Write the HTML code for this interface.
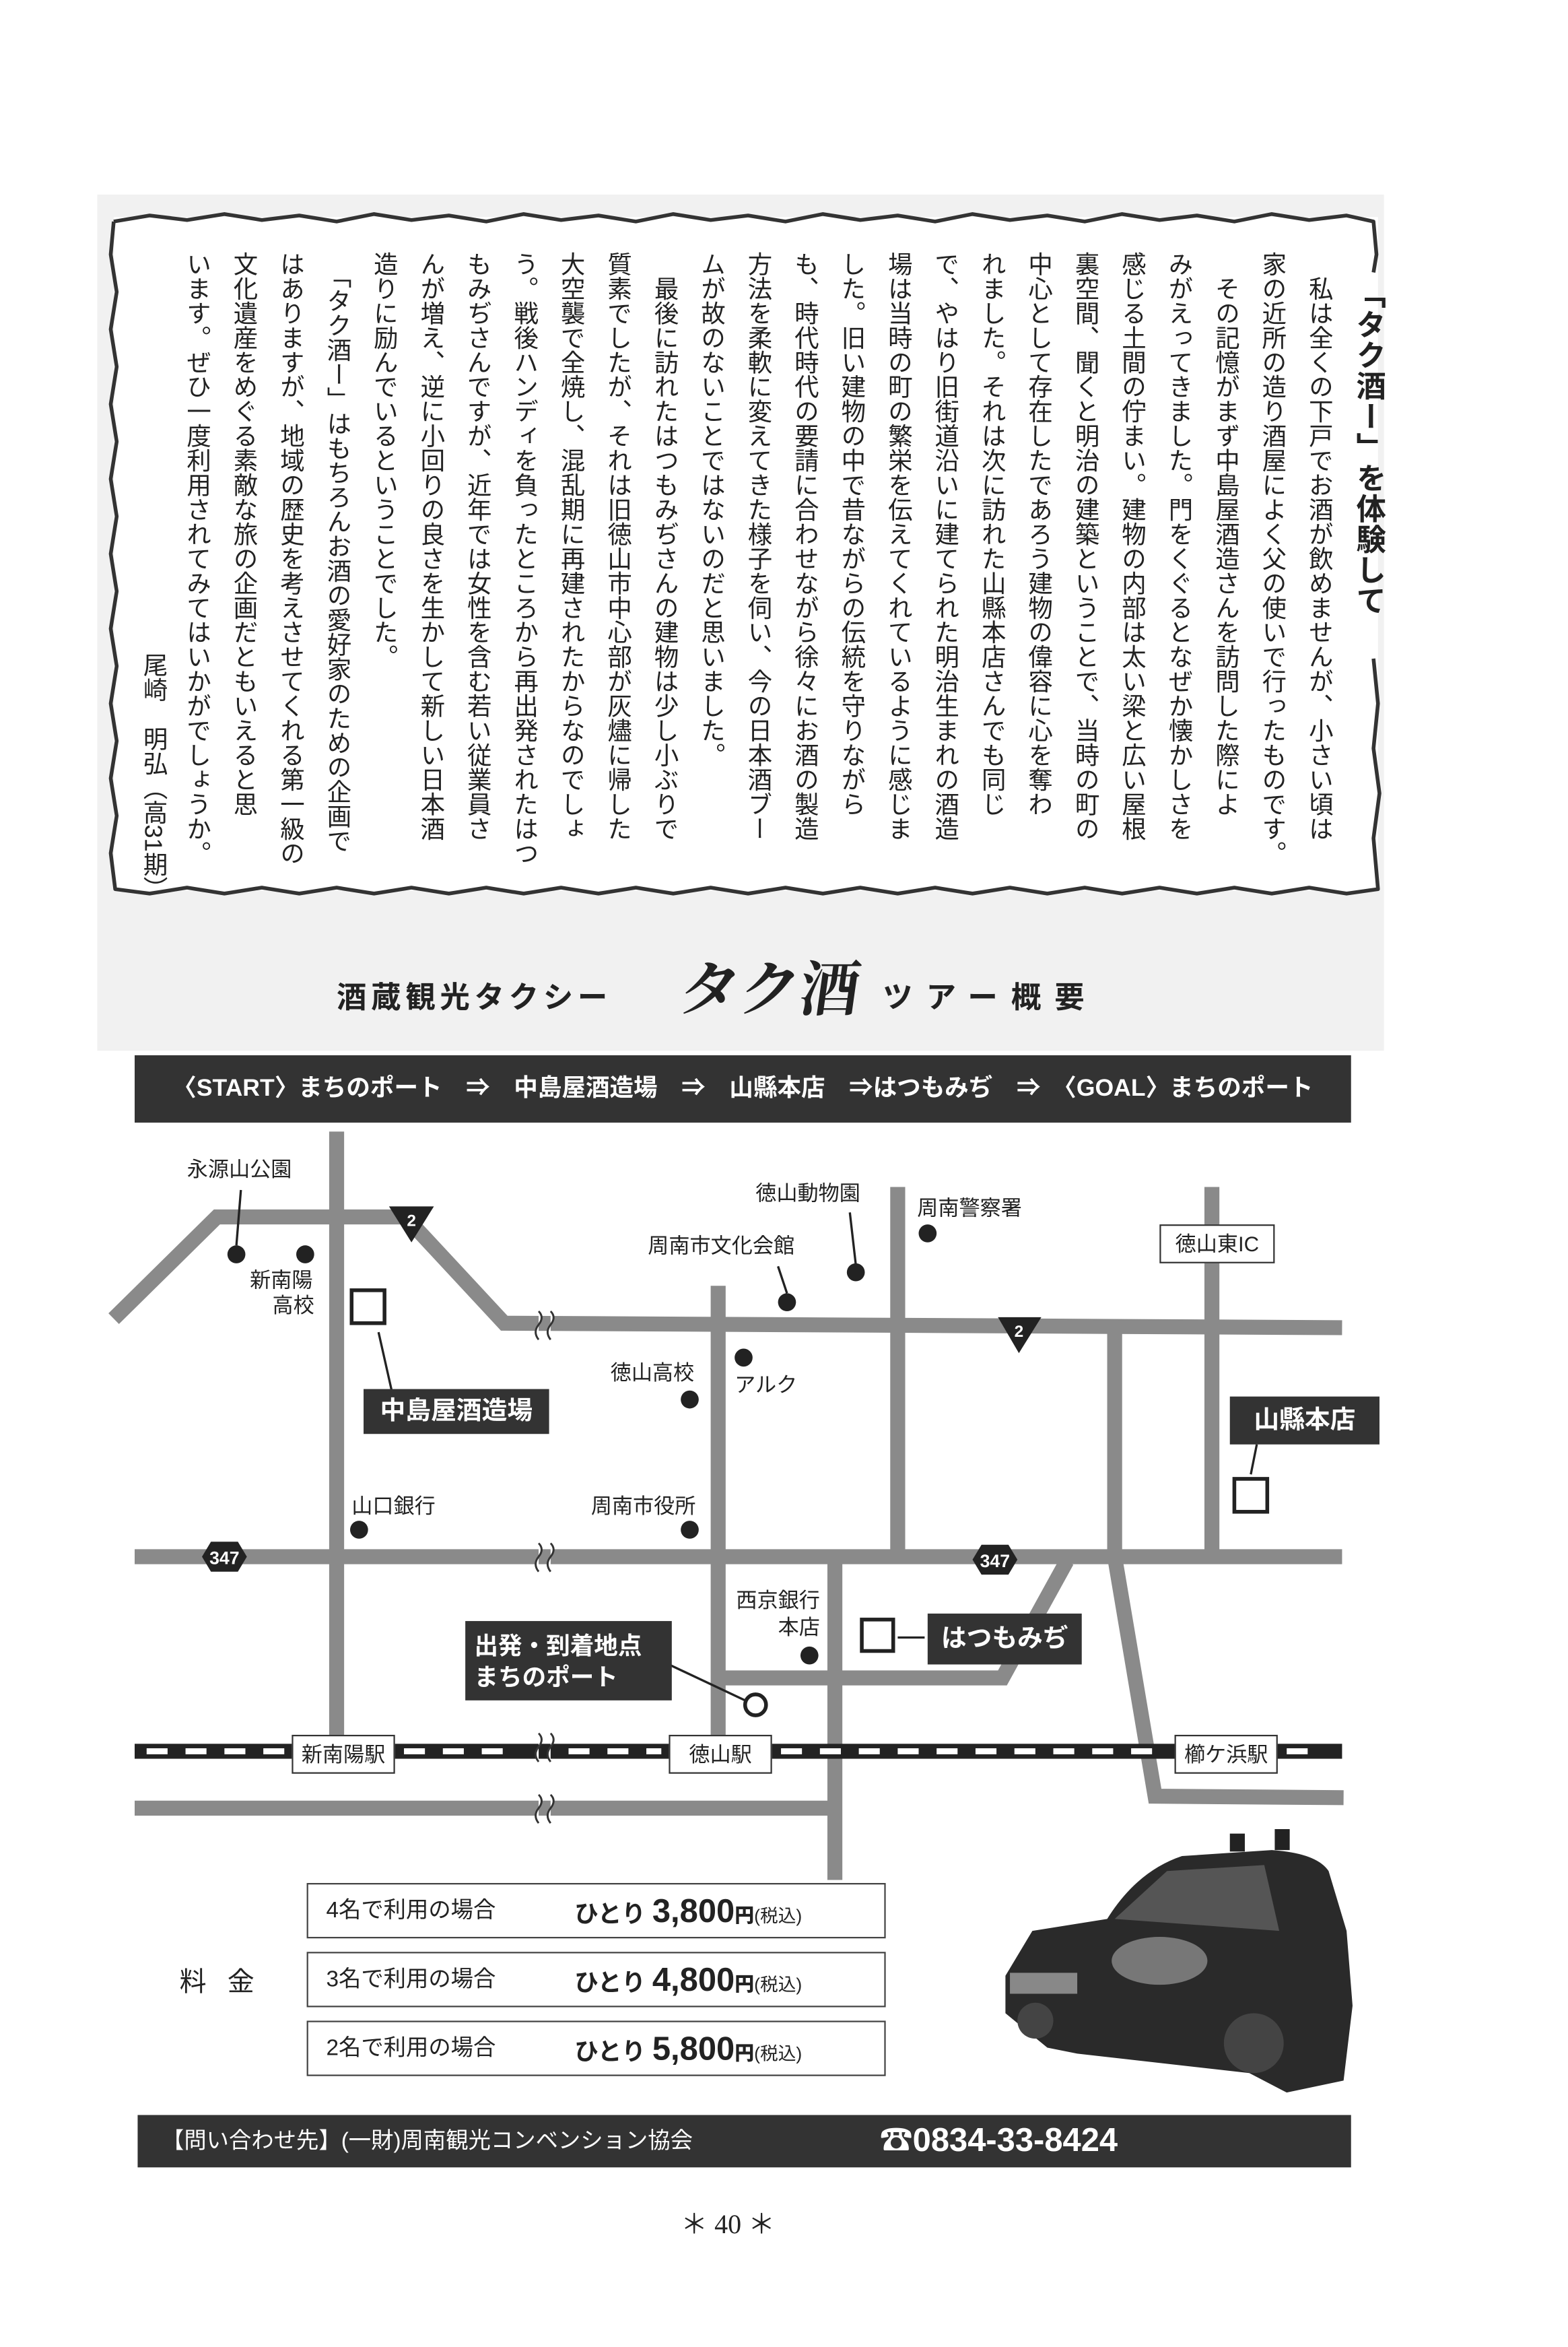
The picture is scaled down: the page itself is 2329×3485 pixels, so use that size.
<!DOCTYPE html>
<html><head><meta charset="utf-8">
<style>
html,body{margin:0;padding:0;background:#fff;}
body{width:2329px;height:3485px;overflow:hidden;position:relative;}
#c{position:absolute;left:0;top:0;width:1048px;height:1568px;transform:scale(2.22233,2.22258);transform-origin:0 0;font-family:"Liberation Sans","Noto Sans CJK JP",sans-serif;color:#222;}
.a{position:absolute;white-space:nowrap;}
.v{writing-mode:vertical-rl;}
.lbl{position:absolute;font-size:14px;white-space:nowrap;color:#222;line-height:1;}
.dk{position:absolute;background:#333;color:#fff;font-weight:bold;white-space:nowrap;line-height:1;}
.stn{position:absolute;background:#fff;border:1.5px solid #333;font-size:14px;text-align:center;line-height:24px;height:24px;}
.row{position:absolute;left:205px;width:385px;height:35px;border:1.5px solid #444;background:#fff;}
.row span{position:absolute;top:0;line-height:35px;white-space:nowrap;}
</style></head><body><div id="c">

<div class="a" style="left:65px;top:130px;width:860px;height:572px;background:#f1f1f1;"></div>

<svg class="a" style="left:0;top:0" width="1048" height="1568" viewBox="0 0 1048 1568">
 <rect x="76" y="145" width="845" height="450" fill="#fff"/>
 <g fill="none" stroke="#333" stroke-width="2.5" stroke-linejoin="round">
  <polyline points="76,148 100,144 125,147 150,143 175,147 200,144 225,148 250,143 275,147 300,144 325,148 350,143 375,147 400,144 425,148 450,143 475,147 500,144 525,148 550,143 575,147 600,144 625,148 650,143 675,147 700,144 725,148 750,143 775,147 800,144 825,148 850,143 875,147 900,144 918,148 920,170 918,182"/>
  <polyline points="918,440 921,470 918,500 922,530 918,560 921,594 900,597 875,593 850,597 825,593 800,597 775,593 750,597 725,593 700,597 675,593 650,597 625,593 600,597 575,593 550,597 525,593 500,597 475,593 450,597 425,593 400,597 375,593 350,597 325,593 300,597 275,593 250,597 225,593 200,597 175,593 150,597 125,593 100,597 77,594 74,570 78,545 74,520 78,495 74,470 78,445 74,420 78,395 74,370 78,345 74,320 78,295 74,270 78,245 74,220 78,195 74,170 76,148"/>
 </g>
</svg>

<div class="a v" style="left:900px;top:186px;font-size:20px;font-weight:bold;letter-spacing:0.5px;">「タク酒ー」を体験して</div>

<div class="a v" style="right:152px;top:168px;font-size:16.4px;line-height:31.25px;letter-spacing:0;">　私は全くの下戸でお酒が飲めませんが、小さい頃は<br>家の近所の造り酒屋によく父の使いで行ったものです。<br>　その記憶がまず中島屋酒造さんを訪問した際によ<br>みがえってきました。門をくぐるとなぜか懐かしさを<br>感じる土間の佇まい。建物の内部は太い梁と広い屋根<br>裏空間、聞くと明治の建築ということで、当時の町の<br>中心として存在したであろう建物の偉容に心を奪わ<br>れました。それは次に訪れた山縣本店さんでも同じ<br>で、やはり旧街道沿いに建てられた明治生まれの酒造<br>場は当時の町の繁栄を伝えてくれているように感じま<br>した。旧い建物の中で昔ながらの伝統を守りながら<br>も、時代時代の要請に合わせながら徐々にお酒の製造<br>方法を柔軟に変えてきた様子を伺い、今の日本酒ブー<br>ムが故のないことではないのだと思いました。<br>　最後に訪れたはつもみぢさんの建物は少し小ぶりで<br>質素でしたが、それは旧徳山市中心部が灰燼に帰した<br>大空襲で全焼し、混乱期に再建されたからなのでしょ<br>う。戦後ハンディを負ったところから再出発されたはつ<br>もみぢさんですが、近年では女性を含む若い従業員さ<br>んが増え、逆に小回りの良さを生かして新しい日本酒<br>造りに励んでいるということでした。<br>　「タク酒ー」はもちろんお酒の愛好家のための企画で<br>はありますが、地域の歴史を考えさせてくれる第一級の<br>文化遺産をめぐる素敵な旅の企画だともいえると思<br>います。ぜひ一度利用されてみてはいかがでしょうか。</div>
<div class="a v" style="left:90px;top:436px;font-size:16.4px;">尾崎　明弘（高31期）</div>

<div class="a" style="left:225px;top:650px;font-size:20px;font-weight:bold;letter-spacing:3px;">酒蔵観光タクシー</div>
<div class="a" style="left:455px;top:630px;font-size:40px;font-family:'Liberation Serif','Noto Serif CJK SC',serif;font-weight:bold;transform:skewX(-8deg);">タク酒</div>
<div class="a" style="left:590px;top:650px;font-size:20px;font-weight:bold;letter-spacing:9px;">ツアー概要</div>

<div class="dk" style="left:90px;top:705px;width:813px;height:45px;line-height:45px;font-size:16px;text-align:center;">〈START〉まちのポート　⇒　中島屋酒造場　⇒　山縣本店　⇒はつもみぢ　⇒　〈GOAL〉まちのポート</div>

<svg class="a" style="left:0;top:0" width="1048" height="1568" viewBox="0 0 1048 1568">
 <g stroke="#8a8a8a" stroke-width="10" fill="none">
  <polyline points="76,881 145,813 271,813 337,884 897,887"/>
  <line x1="225" y1="756" x2="225" y2="1168"/>
  <line x1="480" y1="859" x2="480" y2="1168"/>
  <line x1="600" y1="793" x2="600" y2="1040"/>
  <line x1="810" y1="793" x2="810" y2="1040"/>
  <polyline points="745,887 745,1040 772,1200 898,1201"/>
  <line x1="90" y1="1040" x2="897" y2="1040"/>
  <line x1="558" y1="1040" x2="558" y2="1256"/>
  <polyline points="480,1121 670,1121 713,1043"/>
  <line x1="90" y1="1208" x2="558" y2="1208"/>
 </g>
 <rect x="90" y="1165" width="807" height="10" fill="#222"/>
 <g fill="#fff">
  <rect x="98" y="1168" width="14" height="4"/><rect x="124" y="1168" width="14" height="4"/><rect x="150" y="1168" width="14" height="4"/><rect x="176" y="1168" width="14" height="4"/>
  <rect x="270" y="1168" width="14" height="4"/><rect x="296" y="1168" width="14" height="4"/><rect x="322" y="1168" width="14" height="4"/><rect x="380" y="1168" width="14" height="4"/><rect x="406" y="1168" width="14" height="4"/><rect x="432" y="1168" width="10" height="4"/>
  <rect x="522" y="1168" width="14" height="4"/><rect x="548" y="1168" width="14" height="4"/><rect x="574" y="1168" width="14" height="4"/><rect x="600" y="1168" width="14" height="4"/><rect x="626" y="1168" width="14" height="4"/><rect x="652" y="1168" width="14" height="4"/><rect x="678" y="1168" width="14" height="4"/><rect x="704" y="1168" width="14" height="4"/><rect x="730" y="1168" width="14" height="4"/><rect x="756" y="1168" width="14" height="4"/>
  <rect x="860" y="1168" width="14" height="4"/>
 </g>
 <g fill="#fff" stroke="#333" stroke-width="1.3">
  <path d="M360 876 q4 4 0 9 q-4 5 0 10 M368 876 q4 4 0 9 q-4 5 0 10"/>
  <path d="M360 1031 q4 4 0 9 q-4 5 0 10 M368 1031 q4 4 0 9 q-4 5 0 10"/>
  <path d="M360 1158 q4 4 0 9 q-4 5 0 10 M368 1158 q4 4 0 9 q-4 5 0 10"/>
  <path d="M360 1199 q4 4 0 9 q-4 5 0 10 M368 1199 q4 4 0 9 q-4 5 0 10"/>
 </g>
 <g fill="#222">
  <circle cx="158" cy="838" r="6"/><circle cx="204" cy="838" r="6"/>
  <circle cx="572" cy="850" r="6"/><circle cx="526" cy="870" r="6"/><circle cx="620" cy="824" r="6"/>
  <circle cx="497" cy="907" r="6"/><circle cx="461" cy="935" r="6"/>
  <circle cx="240" cy="1022" r="6"/><circle cx="461" cy="1022" r="6"/><circle cx="541" cy="1106" r="6"/>
 </g>
 <g stroke="#222" stroke-width="1.5" fill="none">
  <line x1="161" y1="795" x2="158" y2="832"/>
  <line x1="568" y1="810" x2="572" y2="845"/>
  <line x1="520" y1="846" x2="526" y2="864"/>
  <line x1="253" y1="890" x2="262" y2="930"/>
  <line x1="840" y1="965" x2="836" y2="985"/>
  <line x1="600" y1="1094" x2="618" y2="1094"/>
  <line x1="447" y1="1112" x2="498" y2="1136"/>
 </g>
 <g fill="#fff" stroke="#222" stroke-width="2.5">
  <rect x="235" y="862" width="22" height="22"/>
  <rect x="825" y="988" width="22" height="22"/>
  <rect x="576" y="1082" width="21" height="21"/>
  <circle cx="505" cy="1139" r="7"/>
 </g>
 <g fill="#222">
  <path d="M260 806 L290 806 L275 830 Z"/>
  <path d="M667 880 L696 880 L681 904 Z"/>
  <path d="M135 1040 L141 1030 L159 1030 L165 1040 L159 1050 L141 1050 Z"/>
  <path d="M650 1042 L656 1032 L674 1032 L680 1042 L674 1052 L656 1052 Z"/>
 </g>
 <g fill="#fff" font-family="Liberation Sans,sans-serif" font-weight="bold" text-anchor="middle">
  <text x="275" y="819" font-size="11">2</text>
  <text x="681" y="893" font-size="11">2</text>
  <text x="150" y="1045" font-size="12">347</text>
  <text x="665" y="1047" font-size="12">347</text>
 </g>
 <g>
  <path d="M672 1320 L690 1290 L740 1282 Q760 1250 790 1240 L850 1236 Q880 1238 888 1250 L900 1290 L904 1340 L898 1390 L860 1398 L835 1385 L720 1372 L700 1368 L672 1345 Z" fill="#2a2a2a"/>
  <path d="M745 1282 L780 1250 L845 1246 L855 1290 Z" fill="#555"/>
  <rect x="822" y="1225" width="10" height="12" fill="#222"/><rect x="852" y="1222" width="10" height="14" fill="#222"/>
  <ellipse cx="775" cy="1310" rx="32" ry="16" fill="#777"/>
  <rect x="675" y="1318" width="45" height="14" fill="#888"/>
  <circle cx="838" cy="1365" r="20" fill="#444"/>
  <circle cx="692" cy="1350" r="12" fill="#444"/>
 </g>
</svg>

<div class="lbl" style="left:125px;top:774px;">永源山公園</div>
<div class="lbl" style="left:167px;top:848px;">新南陽</div>
<div class="lbl" style="left:182px;top:865px;">高校</div>
<div class="lbl" style="left:505px;top:790px;">徳山動物園</div>
<div class="lbl" style="left:433px;top:825px;">周南市文化会館</div>
<div class="lbl" style="left:613px;top:800px;">周南警察署</div>
<div class="stn" style="left:775px;top:818px;width:75px;">徳山東IC</div>
<div class="lbl" style="left:491px;top:918px;">アルク</div>
<div class="lbl" style="left:408px;top:910px;">徳山高校</div>
<div class="dk" style="left:243px;top:928px;width:124px;height:30px;line-height:30px;font-size:17px;text-align:center;">中島屋酒造場</div>
<div class="dk" style="left:822px;top:933px;width:100px;height:32px;line-height:32px;font-size:17px;text-align:center;">山縣本店</div>
<div class="lbl" style="left:235px;top:999px;">山口銀行</div>
<div class="lbl" style="left:395px;top:999px;">周南市役所</div>
<div class="lbl" style="left:492px;top:1062px;">西京銀行</div>
<div class="lbl" style="left:520px;top:1080px;">本店</div>
<div class="dk" style="left:620px;top:1078px;width:103px;height:34px;line-height:34px;font-size:17px;text-align:center;">はつもみぢ</div>
<div class="dk" style="left:311px;top:1083px;width:138px;height:53px;font-size:16px;padding:0;"><div style="padding:7px 0 0 6px;line-height:21px;">出発・到着地点<br>まちのポート</div></div>
<div class="stn" style="left:195px;top:1159px;width:67px;">新南陽駅</div>
<div class="stn" style="left:447px;top:1159px;width:67px;">徳山駅</div>
<div class="stn" style="left:785px;top:1159px;width:67px;">櫛ケ浜駅</div>

<div class="a" style="left:120px;top:1310px;font-size:18px;letter-spacing:14px;">料金</div>
<div class="row" style="top:1258px;"><span style="left:12px;font-size:15px;">4名で利用の場合</span><span style="left:178px;font-weight:bold;font-size:16px;">ひとり <b style="font-size:22px;">3,800</b><b style="font-size:13px;">円</b><span style="position:static;font-size:12px;font-weight:normal;">(税込)</span></span></div>
<div class="row" style="top:1304px;"><span style="left:12px;font-size:15px;">3名で利用の場合</span><span style="left:178px;font-weight:bold;font-size:16px;">ひとり <b style="font-size:22px;">4,800</b><b style="font-size:13px;">円</b><span style="position:static;font-size:12px;font-weight:normal;">(税込)</span></span></div>
<div class="row" style="top:1350px;"><span style="left:12px;font-size:15px;">2名で利用の場合</span><span style="left:178px;font-weight:bold;font-size:16px;">ひとり <b style="font-size:22px;">5,800</b><b style="font-size:13px;">円</b><span style="position:static;font-size:12px;font-weight:normal;">(税込)</span></span></div>

<div class="dk" style="left:92px;top:1413px;width:811px;height:35px;font-weight:normal;">
 <span class="a" style="left:16px;top:10px;font-size:15px;">【問い合わせ先】(一財)周南観光コンベンション協会</span>
 <span class="a" style="left:496px;top:6px;font-size:22px;font-weight:bold;">☎0834-33-8424</span>
</div>

<div class="a" style="left:455px;top:1472px;font-size:18px;font-family:'Liberation Serif',serif;">＊ 40 ＊</div>
</div></body></html>
